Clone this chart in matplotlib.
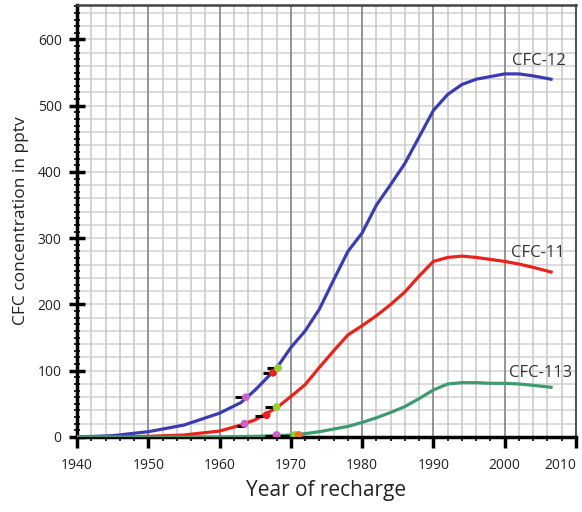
import numpy as np
import matplotlib
matplotlib.use("Agg")
import matplotlib.pyplot as plt
from matplotlib.ticker import MultipleLocator

plt.rcParams['font.family'] = ['Open Sans', 'DejaVu Sans']

# CFC atmospheric curves (pptv)
years_12 = [1940, 1945, 1950, 1955, 1960, 1963, 1965, 1968, 1970, 1972, 1974, 1976, 1978,
            1980, 1982, 1984, 1986, 1988, 1990, 1992, 1994, 1996, 1998, 2000, 2002, 2004, 2006.5]
cfc12 = [0, 2, 8, 18, 36, 52, 71, 104, 135, 160, 193, 237, 280,
         308, 350, 381, 413, 453, 493, 517, 532, 540, 544, 548, 548, 545, 540]

years_11 = [1940, 1945, 1950, 1955, 1960, 1963, 1965, 1968, 1970, 1972, 1974, 1976, 1978,
            1980, 1982, 1984, 1986, 1988, 1990, 1992, 1994, 1996, 1998, 2000, 2002, 2004, 2006.5]
cfc11 = [0, 0, 1, 3, 9, 18, 26, 44, 61, 79, 105, 130, 154,
         168, 183, 200, 219, 243, 265, 271, 273, 271, 268, 265, 261, 256, 249]

years_113 = [1940, 1960, 1965, 1968, 1970, 1972, 1974, 1976, 1978, 1980, 1982, 1984,
             1986, 1988, 1990, 1992, 1994, 1996, 1998, 2000, 2002, 2004, 2006.5]
cfc113 = [0, 0, 1, 2, 3, 5, 8, 12, 16, 22, 29, 37,
          46, 58, 71, 80, 82, 82, 81, 81, 80, 78, 75]

# sample points (coloured dots) and black dashes next to them
dot_x = [1963.7, 1967.5, 1968.2, 1963.5, 1966.6, 1968.0, 1968.0, 1970.6, 1971.1]
dot_y = [60, 97, 104, 20, 33, 45, 3, 3, 3]
dot_c = ['#d060c8', '#e82020', '#90d030', '#d060c8', '#e82020', '#90d030',
         '#d060c8', '#90d030', '#f07020']
dash_x0 = [1962.2, 1966.6, 1966.1, 1962.5, 1965.0, 1966.4, 1966.4, 1968.5]
dash_x1 = [1963.4, 1967.6, 1967.1, 1963.5, 1966.2, 1967.6, 1967.6, 1969.7]
dash_y = [60, 104, 97, 17, 32, 45, 1.5, 1.5]

labels = ['CFC-12', 'CFC-11', 'CFC-113']
label_x = [2004.8, 2004.7, 2005.0]
label_y = [568, 278, 97]

x_ticks = [1940, 1950, 1960, 1970, 1980, 1990, 2000, 2010]
y_ticks = [0, 100, 200, 300, 400, 500, 600]

fig = plt.figure(figsize=(5.82, 5.12), dpi=100)
ax = fig.add_axes([77/582, 75/512, 499/582, 432/512])

# grid
for yy in np.arange(20, 660, 20):
    ax.axhline(yy, color='#d2d2d2', lw=1.1, zorder=0)
ax.xaxis.set_minor_locator(MultipleLocator(2))
ax.yaxis.set_minor_locator(MultipleLocator(10))
ax.grid(which='minor', axis='x', color='#c8c8c8', lw=1.1, zorder=0)
ax.grid(which='major', axis='x', color='#8c8c8c', lw=1.3, zorder=0)
ax.set_axisbelow(True)

ax.plot(years_12, cfc12, color='#3c3cb0', lw=2.3, zorder=3)
ax.plot(years_11, cfc11, color='#e8231a', lw=2.3, zorder=3)
ax.plot(years_113, cfc113, color='#3f9a72', lw=2.3, zorder=3)

ax.hlines(dash_y, dash_x0, dash_x1, color='black', lw=2.2, zorder=4)
ax.scatter(dot_x, dot_y, c=dot_c, s=32, zorder=5, edgecolors='none')

for t, x, y in zip(labels, label_x, label_y):
    ax.text(x, y, t, ha='center', va='center', fontsize=12, color='#333333')

ax.set_xlim(1940, 2010)
ax.set_ylim(0, 652)

ax.spines['left'].set_linewidth(2.5)
ax.spines['bottom'].set_linewidth(2.5)
ax.spines['top'].set_linewidth(1.8)
ax.spines['top'].set_color('#444444')
ax.spines['right'].set_linewidth(1.5)
ax.spines['right'].set_color('#555555')

ax.set_xticks(x_ticks)
ax.set_yticks(y_ticks)

ax.tick_params(axis='y', which='major', direction='inout', length=12, width=2.5, pad=5,
               labelsize=10, labelcolor='#222222')
ax.tick_params(axis='y', which='minor', direction='inout', length=4, width=1.2)
ax.tick_params(axis='x', which='major', direction='out', length=8, width=2.5, pad=7,
               labelsize=10, labelcolor='#222222')
ax.tick_params(axis='x', which='minor', direction='out', length=3, width=1.2)

# last year label sits against the right edge of the figure
ax.get_xticklabels()[-1].set_horizontalalignment('right')

ax.set_xlabel('Year of recharge', fontsize=15, color='#222222', labelpad=5)
ax.set_ylabel('CFC concentration in pptv', fontsize=12.5, color='#222222', labelpad=6)

fig.savefig('out.png', dpi=100)
